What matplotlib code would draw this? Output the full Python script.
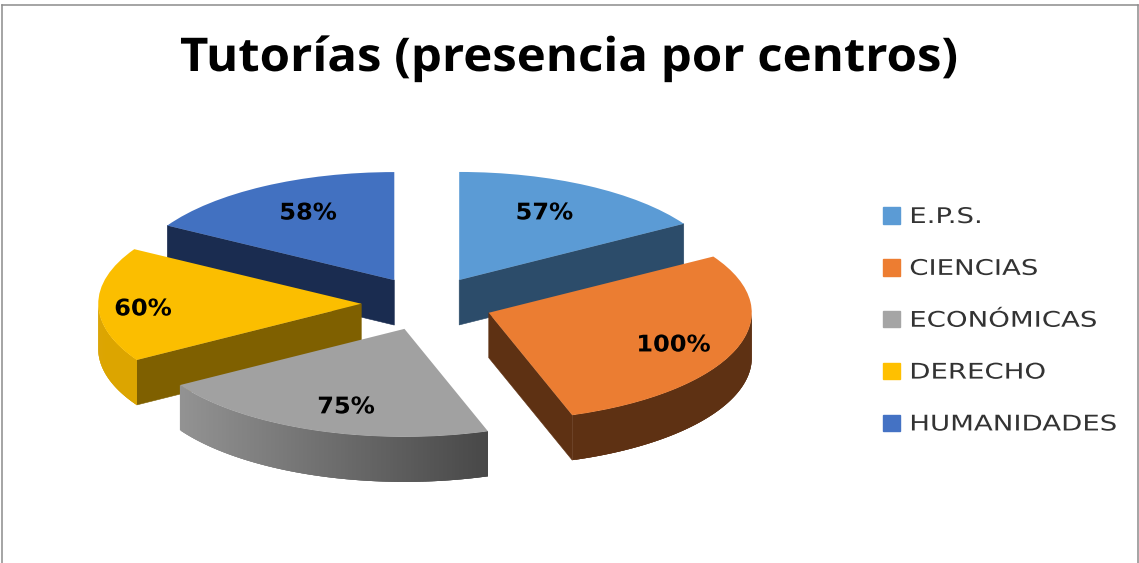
import numpy as np
import matplotlib
matplotlib.use("Agg")
import matplotlib.pyplot as plt
from matplotlib.colors import to_rgb
from matplotlib.lines import Line2D
from matplotlib.patheffects import AbstractPathEffect
from matplotlib.transforms import Affine2D

categories = ["E.P.S.", "CIENCIAS", "ECONÓMICAS", "DERECHO", "HUMANIDADES"]
values = [57, 100, 75, 60, 58]
labels = ["57%", "100%", "75%", "60%", "58%"]
top_colors = ["#5B9BD5", "#ED7D31", "#A5A5A5", "#FFC000", "#4472C4"]
face_colors = ["#5B9BD5", "#EB7D32", "#A1A1A1", "#FBBE00", "#4271C1"]
wall_colors = ["#2C4C6A", "#5E3113", "#4A4A4A", "#7F6000", "#1A2C50"]
arc_left = ["#2C4C6A", "#5E3113", "#939393", "#DCA500", "#1A2C50"]
arc_right = ["#2C4C6A", "#5E3113", "#484848", "#DCA500", "#1A2C50"]
label_off_x = [0.319, 0.696, -0.227, -0.835, -0.333]
label_off_y = [0.621, -0.298, -0.722, -0.048, 0.621]

W, H = 1139, 563
CX, CY, RX, RY, DEPTH = 427.0, 303.5, 263.0, 108.0, 45.0


class HStretch(AbstractPathEffect):
    """Widen text horizontally, as in the stretched reference picture."""

    def __init__(self, sx):
        super().__init__()
        self.sx = sx

    def draw_path(self, renderer, gc, tpath, affine, rgbFace=None):
        m = affine.get_matrix().copy()
        m[0, 0] *= self.sx
        m[0, 1] *= self.sx
        renderer.draw_path(gc, tpath, Affine2D(m), rgbFace)


fig = plt.figure(figsize=(W / 100, H / 100), dpi=100, facecolor="white")
ax = fig.add_axes([0, 0, 1, 1])
wedges, _ = ax.pie(values, explode=[0.25] * 5, startangle=90, counterclock=False,
                   colors=face_colors, radius=1)
ax.set_aspect("auto")
ax.set_xlim(-CX / RX, (W - CX) / RX)
ax.set_ylim((CY - H) / RY, CY / RY)
d = DEPTH / RY


def radial_wall(w, t, color, z):
    cx, cy = w.center
    x, y = cx + np.cos(t), cy + np.sin(t)
    ax.fill([cx, x, x, cx], [cy, y, y - d, cy - d], color=color, lw=0.4, zorder=z)


order = sorted(range(len(wedges)), key=lambda i: -wedges[i].center[1])
for rank, i in enumerate(order):
    w = wedges[i]
    z = 2 + rank * 3
    cx, cy = w.center
    t1, t2 = np.radians(w.theta1), np.radians(w.theta2)
    if np.cos(t1) > 1e-6:
        radial_wall(w, t1, wall_colors[i], z)
    if np.cos(t2) < -1e-6:
        radial_wall(w, t2, wall_colors[i], z)
    ts = np.linspace(t1, t2, 241)
    ts = ts[np.sin(ts) < 0]
    if len(ts) > 1:
        xs = cx + np.cos(ts)
        lo, hi = xs.min(), xs.max()
        cl, cr = np.array(to_rgb(arc_left[i])), np.array(to_rgb(arc_right[i]))
        n = len(ts)
        for k in range(n - 1):
            a, b = ts[k], ts[min(k + 3, n - 1)]
            xa, xb = cx + np.cos(a), cx + np.cos(b)
            ya, yb = cy + np.sin(a), cy + np.sin(b)
            f = ((xa + xb) / 2 - lo) / (hi - lo)
            col = tuple(cl + (cr - cl) * f)
            ax.fill([xa, xb, xb, xa], [ya, yb, yb - d, ya - d], color=col, lw=0, zorder=z + 1)
    w.set_zorder(z + 2)
    ax.text(cx + label_off_x[i], cy + label_off_y[i], labels[i],
            ha="center", va="center", fontsize=16.5, fontweight="bold",
            family="DejaVu Sans", color="#000000", zorder=40,
            path_effects=[HStretch(1.05)])

fig.text(180 / W, 1 - 71 / H, "Tutorías (presencia por centros)", ha="left", va="baseline",
         fontsize=33.5, fontweight="bold", family="Open Sans", stretch="normal", color="#000000",
         path_effects=[HStretch(1.056)])

handles = [plt.Rectangle((0, 0), 1, 1, color=c) for c in top_colors]
leg = fig.legend(handles, categories, loc="upper left", bbox_to_anchor=(883 / W, 1 - 207 / H),
                 frameon=False, labelcolor="#333333",
                 prop={"family": "DejaVu Sans", "size": 15.5},
                 handlelength=0.8, handleheight=0.8, handletextpad=0.42,
                 labelspacing=1.48, borderpad=0, borderaxespad=0)
for t in leg.get_texts():
    t.set_path_effects([HStretch(1.28)])

border = "#8C8C8C"
fig.add_artist(Line2D([1.5 / W, 1.5 / W], [0, 1 - 4.5 / H], transform=fig.transFigure, color=border, lw=1.1))
fig.add_artist(Line2D([1.5 / W, 1138 / W], [1 - 4.5 / H, 1 - 4.5 / H], transform=fig.transFigure, color=border, lw=1.1))
fig.add_artist(Line2D([1138 / W, 1138 / W], [0, 1 - 4.5 / H], transform=fig.transFigure, color=border, lw=1.1))

fig.savefig("out.png", dpi=100)
